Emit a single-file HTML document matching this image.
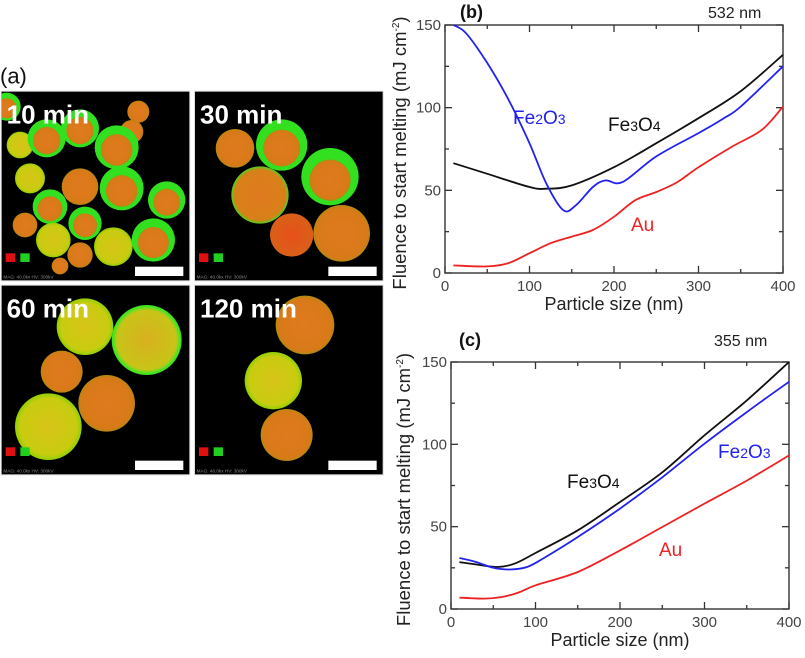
<!DOCTYPE html>
<html><head><meta charset="utf-8"><style>
html,body{margin:0;padding:0;background:#fff;width:805px;height:658px;overflow:hidden;font-family:"Liberation Sans",Arial,sans-serif;}
svg{position:absolute;left:0;top:0;}
</style></head><body>
<svg id="micro" width="390" height="420" viewBox="0 0 1170 1260" style="left:0;top:60px;">
<defs>
<radialGradient id="gY" cx="50%" cy="50%" r="50%"><stop offset="0" stop-color="#d8c418"/><stop offset="0.85" stop-color="#c8cc10"/><stop offset="1" stop-color="#8ed000"/></radialGradient>
<radialGradient id="gO" cx="50%" cy="50%" r="50%"><stop offset="0" stop-color="#e07a20"/><stop offset="0.9" stop-color="#d87a18"/><stop offset="1" stop-color="#b08a10"/></radialGradient>
<radialGradient id="gR" cx="50%" cy="50%" r="50%"><stop offset="0" stop-color="#e8501a"/><stop offset="1" stop-color="#d86018"/></radialGradient>
<radialGradient id="gYG" cx="50%" cy="50%" r="50%"><stop offset="0" stop-color="#d8b020"/><stop offset="0.85" stop-color="#c8c418"/><stop offset="0.93" stop-color="#60e020"/><stop offset="1" stop-color="#30e020"/></radialGradient>
<radialGradient id="gOG" cx="50%" cy="50%" r="50%"><stop offset="0" stop-color="#e07a20"/><stop offset="0.88" stop-color="#d88018"/><stop offset="1" stop-color="#50d020"/></radialGradient>
</defs>
<text x="0" y="70" font-size="66" fill="#111">(a)</text>
<g id="panels"></g>
</svg>
<svg id="chart" width="805" height="658" viewBox="0 0 805 658"></svg>
<script>
// ---------- Microscopy panel (a) ----------
const microPanels=[[5,95],[585,95],[5,677],[585,677]];
const microLabels=["10 min","30 min","60 min","120 min"];
// circles: [panel, cx, cy, r, type] y=yellow, o=orange, r=red, g=green ring, yg=yellow w/ green rim, og=orange w/ green rim
const microCircles=[
[0,20,140,42,'g'],[0,415,155,33,'o'],[0,395,215,35,'o'],[0,60,255,40,'y'],[0,140,235,57,'g'],[0,240,205,57,'g'],[0,350,262,66,'g'],
[0,90,355,45,'y'],[0,240,380,55,'o'],[0,365,385,66,'g'],[0,500,420,56,'g'],[0,150,440,52,'g'],[0,255,490,50,'g'],[0,75,495,37,'o'],
[0,160,540,52,'y'],[0,240,585,38,'o'],[0,340,560,58,'y'],[0,460,540,65,'g'],[0,180,618,25,'o'],
[1,705,265,58,'o'],[1,845,255,77,'g'],[1,990,350,86,'g'],[1,780,405,86,'og'],[1,875,525,65,'r'],[1,1025,520,85,'o'],
[2,255,800,85,'y'],[2,440,840,105,'yg'],[2,185,935,63,'o'],[2,320,1030,85,'o'],[2,145,1100,100,'y'],
[3,915,795,88,'o'],[3,820,962,86,'y'],[3,860,1125,78,'o']];
const NS="http://www.w3.org/2000/svg";
const pg=document.getElementById('panels');
function mk(tag,attrs,parent){const e=document.createElementNS(NS,tag);for(const k in attrs)e.setAttribute(k,attrs[k]);(parent||pg).appendChild(e);return e;}
const fills={y:'url(#gY)',o:'url(#gO)',r:'url(#gR)',yg:'url(#gYG)',og:'url(#gOG)'};
microPanels.forEach((p,i)=>{
  const g=mk('g',{});
  
  
  const cid='clip'+i;
  const cp=mk('clipPath',{id:cid},g);
  mk('rect',{x:p[0],y:p[1],width:563,height:566},cp);
  mk('rect',{x:p[0]-3,y:p[1]-3,width:569,height:572,fill:'#ddd'},g);
  mk('rect',{x:p[0],y:p[1],width:563,height:566,fill:'#000'},g);
  const cg=mk('g',{'clip-path':'url(#'+cid+')'},g);
  microCircles.filter(c=>c[0]===i).forEach(c=>{
    if(c[4]==='g'){
      mk('circle',{cx:c[1],cy:c[2],r:c[3],fill:'#33e020'},cg);
      mk('circle',{cx:c[1],cy:c[2]+c[3]*0.12,r:c[3]*0.72,fill:'url(#gO)'},cg);
    } else {
      mk('circle',{cx:c[1],cy:c[2],r:c[3],fill:fills[c[4]]},cg);
    }
  });
  const t=mk('text',{x:p[0]+15,y:p[1]+95,'font-size':78,'font-weight':'bold',fill:'#fff'},cg);
  t.textContent=microLabels[i];
  
  
  const sb=mk('rect',{x:p[0]+400,y:p[1]+525,width:145,height:28,fill:'#fff'},cg);
  
  
  mk('rect',{x:p[0]+12,y:p[1]+485,width:28,height:26,fill:'#e01010'},cg);
  mk('rect',{x:p[0]+56,y:p[1]+485,width:28,height:26,fill:'#20d020'},cg);
  const m=mk('text',{x:p[0]+5,y:p[1]+560,'font-size':14,fill:'#888'},cg);
  m.textContent='MAG: 40.0kx HV: 300kV';
});

// ---------- Charts (b) and (c) ----------
const xTicks=[0,100,200,300,400];
const yTicks=[0,50,100,150];
// panel b (532 nm)
const bFe3O4X=[10,50,100,120,150,200,250,300,350,400];
const bFe3O4Y=[66.4,60,52,51,53,64,78.5,93.6,110,132];
const bFe2O3X=[10,25,50,75,100,120,140,155,175,190,210,250,300,330,350,400];
const bFe2O3Y=[150,145,127,105,78.5,54,38,41,52,56,55,70.5,84.6,93.6,100.7,125];
const bAuX=[10,50,75,100,125,150,175,200,225,250,275,300,340,375,400];
const bAuY=[4.6,4,6,12,18,22,26,34,44,49,55,64,76.5,86.6,100.7];
// panel c (355 nm)
const cFe3O4X=[10,30,55,75,100,150,200,250,300,350,400];
const cFe3O4Y=[28.5,27,25.5,27.5,34,47.8,65,83,105.5,126.7,150];
const cFe2O3X=[10,30,50,70,90,110,150,200,250,300,350,400];
const cFe2O3Y=[31,28.5,25,24,25.5,31,43.7,61,80,100.4,119.6,138];
const cAuX=[10,40,60,80,100,150,200,250,300,350,400];
const cAuY=[6.9,6.3,7.3,10,14.4,22.5,35.6,49.8,64,78,93.3];

const svg=document.getElementById('chart');
function el(tag,attrs,parent){const e=document.createElementNS(NS,tag);for(const k in attrs)e.setAttribute(k,attrs[k]);(parent||svg).appendChild(e);return e;}
function smooth(pts){
  let d='M'+pts[0][0].toFixed(1)+','+pts[0][1].toFixed(1);
  for(let i=0;i<pts.length-1;i++){
    const p0=pts[i-1]||pts[i],p1=pts[i],p2=pts[i+1],p3=pts[i+2]||p2;
    const c1=[p1[0]+(p2[0]-p0[0])/6,p1[1]+(p2[1]-p0[1])/6];
    const c2=[p2[0]-(p3[0]-p1[0])/6,p2[1]-(p3[1]-p1[1])/6];
    d+='C'+c1.map(v=>v.toFixed(1))+' '+c2.map(v=>v.toFixed(1))+' '+p2.map(v=>v.toFixed(1));
  }
  return d;
}
function panel(cfg){
  const L=cfg.L,R=cfg.R,T=cfg.T,B=cfg.B;
  const sx=v=>L+(v-0)/400*(R-L), sy=v=>B-(v-0)/150*(B-T);
  const g=el('g',{});
  
  
  const frame=el('rect',{x:L,y:T,width:R-L,height:B-T,fill:'none',stroke:'#333','stroke-width':1.4},g);
  
  
  for(let v=0;v<=400;v+=50){const x=sx(v),len=v%100===0?7:4;
    el('line',{x1:x,y1:B,x2:x,y2:B-len,stroke:'#333','stroke-width':1.3},g);
    el('line',{x1:x,y1:T,x2:x,y2:T+len,stroke:'#333','stroke-width':1.3},g);}
  for(let v=0;v<=150;v+=25){const y=sy(v),len=v%50===0?7:4;
    el('line',{x1:L,y1:y,x2:L+len,y2:y,stroke:'#333','stroke-width':1.3},g);
    el('line',{x1:R,y1:y,x2:R-len,y2:y,stroke:'#333','stroke-width':1.3},g);}
  xTicks.forEach(v=>{const t=el('text',{x:sx(v),y:B+18,'font-size':15,fill:'#444','text-anchor':'middle'},g);t.textContent=v;
    
    });
  yTicks.forEach(v=>{const t=el('text',{x:L-4,y:sy(v)+5,'font-size':15,fill:'#444','text-anchor':'end'},g);t.textContent=v;
    
    });
  const xt=el('text',{x:(L+R)/2,y:B+37,'font-size':18,fill:'#222','text-anchor':'middle'},g);
  xt.textContent='Particle size (nm)';
  
  
  const yt=el('text',{x:0,y:0,'font-size':18.5,fill:'#222','text-anchor':'middle',transform:'translate('+cfg.yx+','+((T+B)/2+4)+') rotate(-90)'},g);
  yt.innerHTML='Fluence to start melting (mJ cm<tspan dy="-7" font-size="10">-2</tspan><tspan dy="7">)</tspan>';
  
  
  const pl=el('text',{x:cfg.plx,y:cfg.ply,'font-size':18,'font-weight':'bold',fill:'#111'},g);
  pl.textContent=cfg.label;
  
  
  const wl=el('text',{x:cfg.wlx,y:cfg.ply,'font-size':16,fill:'#222'},g);
  wl.textContent=cfg.wl;
  
  
  cfg.series.forEach(s=>{
    const pts=s.x.map((xv,i)=>[sx(xv),sy(s.y[i])]);
    const p=el('path',{d:smooth(pts),fill:'none',stroke:s.c,'stroke-width':1.8},g);
    
    
    const t=el('text',{x:s.lx,y:s.ly,'font-size':19,fill:s.c},g);
    t.innerHTML=s.label;
    
    
  });
}
const sub=n=>'<tspan font-size="14">'+n+'</tspan>';
panel({id:'b-532nm',L:445,R:783,T:25,B:273,yx:406,plx:460,ply:18,label:'(b)',wlx:708,wl:'532 nm',series:[
 {n:'fe3o4',x:bFe3O4X,y:bFe3O4Y,c:'#111',lx:608,ly:131,label:'Fe'+sub(3)+'O'+sub(4)},
 {n:'fe2o3',x:bFe2O3X,y:bFe2O3Y,c:'#2222ee',lx:513,ly:124,label:'Fe'+sub(2)+'O'+sub(3)},
 {n:'au',x:bAuX,y:bAuY,c:'#ee2222',lx:631,ly:231,label:'Au'}]});
panel({id:'c-355nm',L:451,R:789,T:362,B:609,yx:410,plx:459,ply:346,label:'(c)',wlx:714,wl:'355 nm',series:[
 {n:'fe3o4',x:cFe3O4X,y:cFe3O4Y,c:'#111',lx:567,ly:488,label:'Fe'+sub(3)+'O'+sub(4)},
 {n:'fe2o3',x:cFe2O3X,y:cFe2O3Y,c:'#2222ee',lx:718,ly:458,label:'Fe'+sub(2)+'O'+sub(3)},
 {n:'au',x:cAuX,y:cAuY,c:'#ee2222',lx:659,ly:556,label:'Au'}]});
</script>
</body></html>
